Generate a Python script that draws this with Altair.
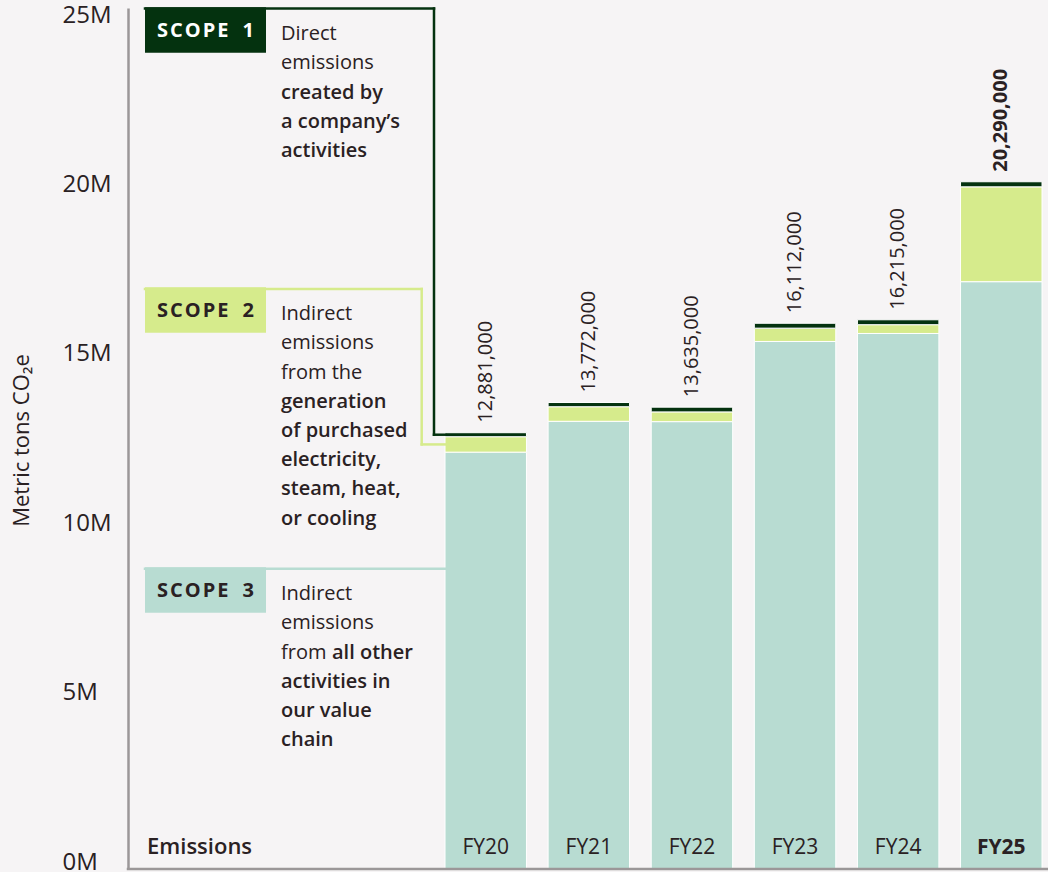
import altair as alt
import pandas as pd

# ---- data -----------------------------------------------------------------
YEARS = ["FY20", "FY21", "FY22", "FY23", "FY24", "FY25"]
SCOPE_1 = [118_000, 124_000, 139_000, 144_000, 145_000, 150_000]
SCOPE_2 = [456_000, 430_000, 288_000, 393_000, 259_000, 2_800_000]
SCOPE_3 = [12_307_000, 13_218_000, 13_208_000, 15_575_000, 15_811_000, 17_340_000]
TOTALS = [12_881_000, 13_772_000, 13_635_000, 16_112_000, 16_215_000, 20_290_000]

Y_TICKS = [0, 5_000_000, 10_000_000, 15_000_000, 20_000_000, 25_000_000]
Y_TITLE = "Metric tons CO\u2082e"
ROW_LABEL = "Emissions"

SCOPE_NAMES = ["Scope 3", "Scope 2", "Scope 1"]  # stacked bottom -> top
SCOPE_TAGS = ["SCOPE 1", "SCOPE 2", "SCOPE 3"]
# each note line: (regular part, bold part)
SCOPE_NOTES = [
    [("Direct", ""), ("emissions", ""), ("", "created by"),
     ("", "a company\u2019s"), ("", "activities")],
    [("Indirect", ""), ("emissions", ""), ("from the", ""), ("", "generation"),
     ("", "of purchased"), ("", "electricity,"), ("", "steam, heat,"),
     ("", "or cooling")],
    [("Indirect", ""), ("emissions", ""), ("from ", "all other"),
     ("", "activities in"), ("", "our value"), ("", "chain")],
]

# ---- style ------------------------------------------------------------------
FONT = "Open Sans"
TEXT = "#2a2123"
DARK = "#04320f"
LIGHT = "#d6eb8c"
TEAL = "#b8dcd2"
AXIS = "#9b9798"
BG = "#f6f4f5"

W, H = 920, 861
Y_MAX = 25_420_000
BAR_RANGE = [317, 914]

y_scale = alt.Scale(domain=[0, Y_MAX], nice=False, zero=True)
x_scale = alt.Scale(domain=YEARS, range=BAR_RANGE, paddingInner=0.21, paddingOuter=0)

y_axis = alt.Axis(
    values=Y_TICKS, labelExpr="datum.value / 1000000 + 'M'",
    grid=False, ticks=False, tickSize=0,
    domain=True, domainColor=AXIS, domainWidth=2.5,
    labelAlign="left", labelBaseline="middle", labelPadding=66, labelOffset=-7,
    labelFont=FONT, labelFontSize=24, labelColor=TEXT,
    title=Y_TITLE, titleFont=FONT, titleFontSize=22, titleFontWeight="normal",
    titleColor=TEXT, titleAngle=270, titleX=-107, titleY=432,
    titleAlign="center", titleBaseline="middle",
)

# ---- tables -----------------------------------------------------------------
rows = []
for i, yr in enumerate(YEARS):
    for k, (name, vals) in enumerate(zip(SCOPE_NAMES, [SCOPE_3, SCOPE_2, SCOPE_1])):
        rows.append({"year": yr, "scope": name, "value": vals[i], "order": k})
bars_df = pd.DataFrame(rows)
tot_df = pd.DataFrame({"year": YEARS, "value": TOTALS})
ONE = pd.DataFrame({"n": [1]})

# ---- bars -------------------------------------------------------------------
bars = alt.Chart(bars_df).mark_bar(stroke="white", strokeWidth=1).encode(
    x=alt.X("year:N", scale=x_scale, axis=None),
    y=alt.Y("value:Q", stack="zero", scale=y_scale, axis=y_axis),
    color=alt.Color("scope:N", scale=alt.Scale(domain=SCOPE_NAMES, range=[TEAL, LIGHT, DARK]),
                    legend=None),
    order=alt.Order("order:Q"),
)


def totals_text(selector, weight):
    return alt.Chart(tot_df).transform_filter(selector).mark_text(
        angle=270, align="left", baseline="middle", dx=10,
        font=FONT, fontSize=20, fontWeight=weight, color=TEXT,
    ).encode(
        x=alt.X("year:N", scale=x_scale, axis=None),
        y=alt.Y("value:Q", scale=y_scale, axis=y_axis),
        text=alt.Text("value:Q", format=","),
    )


def year_text(selector, weight):
    return alt.Chart(tot_df).transform_filter(selector).mark_text(
        baseline="middle", align="center", font=FONT, fontSize=21,
        fontWeight=weight, color=TEXT,
    ).encode(
        x=alt.X("year:N", scale=x_scale, axis=None),
        y=alt.value(840),
        text="year:N",
    )


last = alt.datum.year == YEARS[-1]
not_last = alt.datum.year != YEARS[-1]


def label(text, x, y, size, weight="normal", color=TEXT, align="left", baseline="alphabetic"):
    return alt.Chart(ONE).mark_text(
        text=text, font=FONT, fontSize=size, fontWeight=weight, color=color,
        align=align, baseline=baseline,
    ).encode(x=alt.value(x), y=alt.value(y))


def box(x, x2, y, y2, color):
    return alt.Chart(ONE).mark_rect(color=color).encode(
        x=alt.value(x), x2=alt.value(x2), y=alt.value(y), y2=alt.value(y2))


def seg(x, x2, y, y2, color, width=2.5):
    return alt.Chart(ONE).mark_rule(color=color, strokeWidth=width, strokeCap="square").encode(
        x=alt.value(x), x2=alt.value(x2), y=alt.value(y), y2=alt.value(y2))


def seg_to_value(x, x2, value, color, y2=None, width=2.5):
    enc = dict(x=alt.value(x),
               y=alt.Y("v:Q", scale=y_scale, axis=y_axis))
    if x2 is not None:
        enc["x2"] = alt.value(x2)
    if y2 is not None:
        enc["y2"] = alt.value(y2)
    return alt.Chart(pd.DataFrame({"v": [value]})).mark_rule(
        color=color, strokeWidth=width, strokeCap="square").encode(**enc)


# connector anchors on the first bar
s1_mid = SCOPE_3[0] + SCOPE_2[0] + SCOPE_1[0] / 2
s2_mid = SCOPE_3[0] + SCOPE_2[0] / 2

BOX_X, BOX_X2 = 17, 138
BOX_TOPS = [-0.7, 279.3, 559.3]
BOX_H = 45.4
TAG_COLORS = [DARK, LIGHT, TEAL]
TAG_TEXT = ["white", TEXT, TEXT]
NOTE_X = 153
LINE_H = 29.2
BOLD_INDENT = 51

layers = [bars]

# connectors
layers += [
    seg(BOX_X, 306, 0.5, 0.5, DARK),
    seg_to_value(306, None, s1_mid, DARK, y2=0.5),
    seg_to_value(306, BAR_RANGE[0], s1_mid, DARK),
    seg(BOX_X, 293.7, 281, 281, LIGHT),
    seg_to_value(293.7, None, s2_mid, LIGHT, y2=281),
    seg_to_value(293.7, BAR_RANGE[0], s2_mid, LIGHT),
    seg(BOX_X, BAR_RANGE[0], 560.7, 560.7, TEAL),
]

# scope tags and notes
for tag, top, col, tcol, notes in zip(SCOPE_TAGS, BOX_TOPS, TAG_COLORS, TAG_TEXT, SCOPE_NOTES):
    layers.append(box(BOX_X, BOX_X2, top, top + BOX_H, col))
    spaced = "\u200a".join(tag.replace(" ", "\u2002"))
    layers.append(label(spaced, (BOX_X + BOX_X2) / 2, top + BOX_H / 2 + 0.5, 20,
                        weight="bold", color=tcol, align="center", baseline="middle"))
    for j, (reg, bold) in enumerate(notes):
        yb = top + 32.8 + j * LINE_H
        if reg:
            layers.append(label(reg, NOTE_X, yb, 20))
        if bold:
            bx = NOTE_X + (BOLD_INDENT if reg else 0)
            layers.append(label(bold, bx, yb, 20, weight=600))

# totals and year labels
layers += [
    totals_text(not_last, "normal"),
    totals_text(last, "bold"),
    year_text(not_last, "normal"),
    year_text(last, "bold"),
    label(ROW_LABEL, 19, 839, 22, weight=600, baseline="middle"),
    seg(0, W, H, H, AXIS),
]

chart = alt.layer(*layers).properties(
    width=W, height=H,
    padding={"left": 128, "top": 8, "right": 0, "bottom": 3},
    autosize=alt.AutoSizeParams(type="none"),
    background=BG,
).configure_view(stroke=None)

chart.save("out.html", embed_options={"renderer": "svg", "actions": False})
